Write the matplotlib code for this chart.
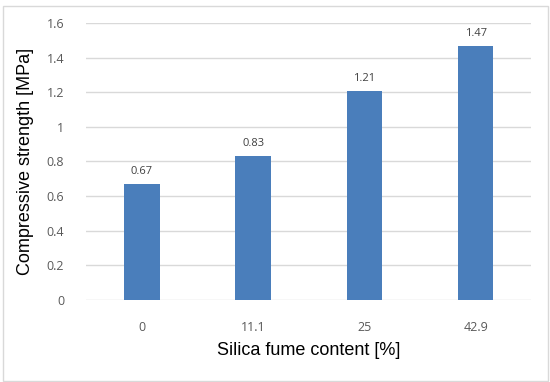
import matplotlib.pyplot as plt
from matplotlib.patches import Rectangle

categories = ['0', '11.1', '25', '42.9']
strength = [0.67, 0.83, 1.21, 1.47]
yticks = [0, 0.2, 0.4, 0.6, 0.8, 1, 1.2, 1.4, 1.6]
ytick_labels = ['0', '0.2', '0.4', '0.6', '0.8', '1', '1.2', '1.4', '1.6']

fig = plt.figure(figsize=(5.5, 3.82), dpi=100)
ax = fig.add_axes([0.157, 0.2147, 0.809, 0.7251])

x = range(len(categories))
ax.bar(x, strength, width=0.32, color='#4a7ebb', zorder=3)
for xi, v in zip(x, strength):
    ax.text(xi, v + 0.04, '%.2f' % v, ha='center', va='bottom', fontsize=8,
            color='#404040', family='Open Sans')

ax.set_xlim(-0.5, len(categories) - 0.5)
ax.set_ylim(0, 1.6)
ax.set_xticks(list(x))
ax.set_xticklabels(categories, family='Open Sans')
ax.set_yticks(yticks)
ax.set_yticklabels(ytick_labels, family='Open Sans')
ax.tick_params(axis='both', length=0, labelsize=9, labelcolor='#595959')
ax.tick_params(axis='x', pad=15)
ax.tick_params(axis='y', pad=16)
ax.grid(axis='y', color='#d9d9d9', linewidth=1, zorder=0)
for s in ax.spines.values():
    s.set_visible(False)

ax.set_xlabel('Silica fume content [%]', fontsize=13, labelpad=6, family='Liberation Sans')
ax.set_ylabel('Compressive strength [MPa]', fontsize=13, labelpad=9, family='Liberation Sans')

fig.patches.append(Rectangle((3 / 550, 1 / 382), 545 / 550, 375 / 382, transform=fig.transFigure,
                             fill=False, edgecolor='#d9d9d9', linewidth=1))

fig.savefig('out.png', dpi=100)
